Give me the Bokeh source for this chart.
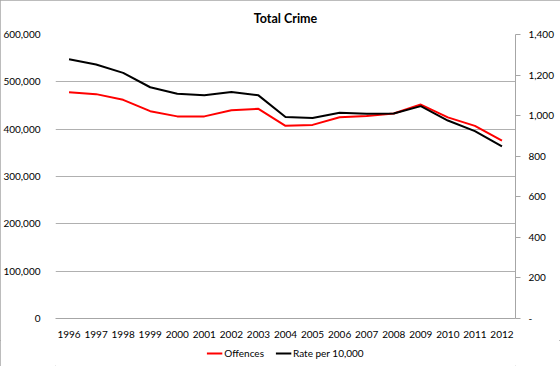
from bokeh.plotting import figure
from bokeh.layouts import column
from bokeh.models import (Range1d, FactorRange, LinearAxis, FixedTicker,
                          NumeralTickFormatter, Legend, LegendItem)
from bokeh.embed import file_html
from bokeh.resources import INLINE

# ---- data ----
years = ["1996", "1997", "1998", "1999", "2000", "2001", "2002", "2003", "2004",
         "2005", "2006", "2007", "2008", "2009", "2010", "2011", "2012"]
offences = [478000, 474000, 462000, 438000, 427000, 427000, 440000, 443000, 407000,
            409000, 425000, 428000, 433000, 452000, 425000, 407000, 376000]
rate_per_10000 = [1278, 1252, 1211, 1140, 1108, 1100, 1116, 1100, 993,
                  988, 1014, 1009, 1011, 1047, 976, 924, 848]
left_ticks = [0, 100000, 200000, 300000, 400000, 500000, 600000]
right_ticks = [0, 200, 400, 600, 800, 1000, 1200, 1400]
series_names = ["Offences", "Rate per 10,000"]

FONT = "Lato"
GRID = "#b0b0b0"
AXIS = "#a6a6a6"
RED = "#ff0000"
BLACK = "#000000"

# ---------------- main chart ----------------
p = figure(x_range=FactorRange(*years), y_range=Range1d(0, 600000),
           width=560, height=340,
           min_border_left=50, min_border_right=45, min_border_top=34, min_border_bottom=22,
           output_backend="svg", toolbar_location=None, title="Total Crime")
p.extra_y_ranges = {"rate": Range1d(0, 1400)}

p.background_fill_color = "white"
p.border_fill_color = "white"
p.outline_line_color = None

p.title.align = "center"
p.title.text_font = FONT
p.title.text_font_size = "12.5px"
p.title.text_font_style = "bold"
p.title.text_color = "black"
if "standoff" in p.title.properties():
    p.title.standoff = 17

# left axis
yl = p.yaxis[0]
yl.ticker = FixedTicker(ticks=left_ticks)
yl.formatter = NumeralTickFormatter(format="0,0")
yl.axis_line_color = None
yl.major_tick_line_color = None
yl.minor_tick_line_color = None
yl.major_label_standoff = 9
yl.major_label_text_font = FONT
yl.major_label_text_font_size = "10px"
yl.major_label_text_color = "black"

p.ygrid.ticker = FixedTicker(ticks=left_ticks)
p.ygrid.grid_line_color = GRID
p.xgrid.grid_line_color = None

# bottom axis
xa = p.xaxis[0]
xa.axis_line_color = AXIS
xa.major_tick_line_color = None
xa.minor_tick_line_color = None
xa.major_label_standoff = 6
xa.major_label_text_font = FONT
xa.major_label_text_font_size = "10px"
xa.major_label_text_color = "black"

# right axis
yr = LinearAxis(y_range_name="rate", ticker=FixedTicker(ticks=right_ticks),
                formatter=NumeralTickFormatter(format="0,0"))
yr.major_label_overrides = {0: "-"}
yr.axis_line_color = AXIS
yr.major_tick_line_color = AXIS
yr.major_tick_out = 5
yr.major_tick_in = 0
yr.minor_tick_line_color = None
yr.major_label_standoff = 8
yr.major_label_text_font = FONT
yr.major_label_text_font_size = "10px"
yr.major_label_text_color = "black"
p.add_layout(yr, "right")

p.line(years, offences, line_color=RED, line_width=2)
p.line(years, rate_per_10000, line_color=BLACK, line_width=2, y_range_name="rate")

# ---------------- legend strip ----------------
# The series are drawn here too, but outside this strip's visible range,
# so only their legend keys show.
lg = figure(width=560, height=26, x_range=FactorRange(*years), y_range=Range1d(-2, -1),
            x_axis_location=None, y_axis_location=None,
            min_border_left=0, min_border_right=0, min_border_top=0, min_border_bottom=0,
            output_backend="svg", toolbar_location=None)
lg.outline_line_color = None
lg.background_fill_color = "white"
lg.border_fill_color = "white"
lg.xgrid.grid_line_color = None
lg.ygrid.grid_line_color = None
k1 = lg.line(years, offences, line_color=RED, line_width=2)
k2 = lg.line(years, rate_per_10000, line_color=BLACK, line_width=2)

legend = Legend(items=[LegendItem(label=series_names[0], renderers=[k1]),
                       LegendItem(label=series_names[1], renderers=[k2])],
                location="center", orientation="horizontal",
                border_line_color=None, background_fill_alpha=0,
                glyph_width=16, glyph_height=12, label_height=12,
                label_standoff=2, spacing=11, padding=0, margin=0,
                label_text_font=FONT, label_text_font_size="10px",
                label_text_color="black")
lg.add_layout(legend, "center")

layout = column(p, lg, spacing=0)
layout.styles = {"outline": "1px solid #a6a6a6", "outline-offset": "-1px",
                 "background-color": "white"}

open("out.html", "w").write(file_html(layout, INLINE))
